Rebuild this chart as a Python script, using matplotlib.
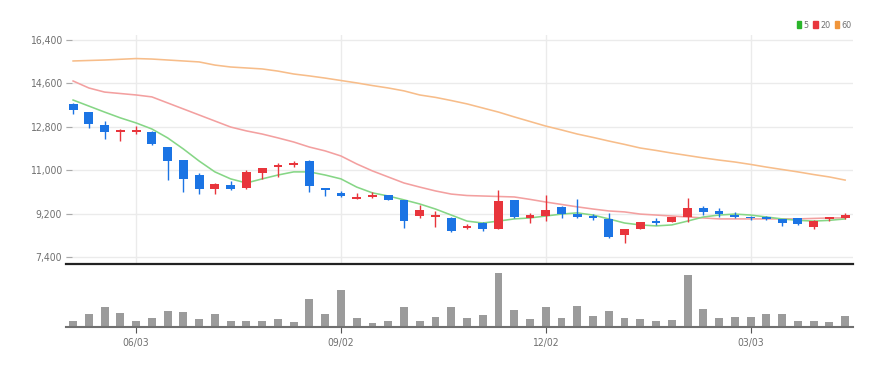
import matplotlib
matplotlib.use("Agg")
import matplotlib.pyplot as plt
from matplotlib.patches import Patch
from matplotlib.ticker import FuncFormatter
from matplotlib import font_manager as fm
import numpy as np

names = {f.name for f in fm.fontManager.ttflist}
if 'Liberation Sans Narrow' in names:
    plt.rcParams['font.family'] = ['Liberation Sans Narrow', 'DejaVu Sans']
else:
    plt.rcParams['font.family'] = ['DejaVu Sans']
    plt.rcParams['font.stretch'] = 'condensed'

# ---- data (weekly candles) ----
opens = [13750, 13410, 12880, 12590, 12590, 12590, 11960, 11420, 10800, 10220,
         10390, 10260, 10880, 11130, 11220, 11380, 10260, 10060, 9810, 9890,
         9970, 9770, 9100, 9060, 9020, 8600, 8810, 8560, 9770, 9020,
         9100, 9470, 9180, 9100, 8980, 8310, 8560, 8890, 8850, 9060,
         9430, 9310, 9140, 9060, 9060, 8980, 9020, 8650, 8980, 9020]
highs = [13790, 13410, 13040, 12710, 12830, 12630, 11960, 11420, 10880, 10470,
         10550, 11010, 11090, 11300, 11380, 11420, 10260, 10140, 10060, 10100,
         9970, 9770, 9560, 9310, 9060, 8770, 8850, 10180, 9770, 9230,
         9970, 9520, 9810, 9180, 9230, 8560, 8850, 9020, 9060, 9850,
         9520, 9430, 9270, 9100, 9100, 8980, 9020, 8940, 9060, 9230]
lows = [13330, 12750, 12300, 12210, 12500, 12050, 10590, 10100, 10010, 10010,
        10180, 10220, 10640, 10720, 11130, 10100, 9930, 9890, 9810, 9850,
        9770, 8600, 9020, 8650, 8440, 8560, 8480, 8560, 9020, 8810,
        8890, 9020, 9020, 8940, 8190, 7980, 8560, 8730, 8850, 8850,
        9140, 9060, 9020, 8940, 8940, 8690, 8730, 8560, 8890, 8980]
closes = [13500, 12920, 12590, 12670, 12670, 12090, 11380, 10640, 10220, 10430,
          10220, 10930, 11090, 11220, 11300, 10350, 10180, 9930, 9890, 9970,
          9770, 8890, 9350, 9140, 8480, 8690, 8560, 9720, 9060, 9140,
          9350, 9180, 9060, 9020, 8230, 8560, 8850, 8810, 9060, 9430,
          9270, 9180, 9060, 9000, 8990, 8810, 8770, 8890, 9020, 9140]
volumes = [63, 133, 197, 143, 63, 90, 160, 147, 80, 127,
           63, 63, 63, 80, 53, 280, 130, 373, 93, 40,
           60, 197, 63, 97, 197, 90, 123, 543, 173, 80,
           197, 90, 213, 113, 157, 90, 77, 57, 73, 523,
           180, 90, 97, 97, 133, 127, 63, 60, 47, 107]  # thousands
ma5 = [13910, 13660, 13410, 13170, 12960, 12710, 12340, 11880, 11380, 10930,
       10640, 10470, 10640, 10800, 10930, 10930, 10800, 10640, 10300, 10060,
       9930, 9770, 9600, 9390, 9140, 8890, 8810, 8890, 8980, 9020,
       9100, 9180, 9230, 9140, 8980, 8810, 8730, 8690, 8730, 8890,
       9060, 9140, 9180, 9140, 9060, 8980, 8920, 8890, 8920, 8980]
ma20 = [14700, 14410, 14240, 14180, 14120, 14040, 13790, 13540, 13290, 13040,
        12790, 12630, 12500, 12340, 12170, 11960, 11800, 11590, 11260, 10970,
        10720, 10470, 10300, 10140, 10010, 9950, 9930, 9910, 9890, 9790,
        9680, 9580, 9480, 9390, 9310, 9270, 9180, 9140, 9100, 9060,
        9020, 8980, 8980, 8980, 8980, 8980, 8980, 9000, 9020, 9020]
ma60 = [15530, 15550, 15570, 15600, 15630, 15610, 15570, 15530, 15490, 15360,
        15280, 15240, 15200, 15110, 14990, 14910, 14820, 14720, 14620, 14510,
        14410, 14290, 14120, 14020, 13890, 13750, 13580, 13410, 13210, 13020,
        12830, 12670, 12500, 12360, 12210, 12070, 11920, 11820, 11710, 11610,
        11510, 11420, 11340, 11240, 11130, 11030, 10930, 10820, 10720, 10590]
date_tick_pos = [4, 17, 30, 43]
date_tick_labels = ['06/03', '09/02', '12/02', '03/03']
price_ticks = [7400, 9200, 11000, 12800, 14600, 16400]
legend_labels = ['5', '20', '60']

RED = '#e8353c'
BLUE = '#1b74e4'
C5 = '#86d686'
C20 = '#f3a0a0'
C60 = '#f7bd8a'
W, H = 894, 367

fig = plt.figure(figsize=(W / 100, H / 100), dpi=100)
ax = fig.add_axes([66 / W, 1 - 264 / H, 787 / W, (264 - 35) / H])
vax = fig.add_axes([66 / W, 1 - 327 / H, 787 / W, 57 / H])

x = np.arange(len(opens))
o = np.array(opens); c = np.array(closes)
up = c >= o
cols = [RED if u else BLUE for u in up]

# grid
ax.set_yticks(price_ticks)
ax.set_xticks(date_tick_pos)
ax.grid(True, color='#ebebeb', linewidth=1.0)
ax.set_axisbelow(True)

# MAs
ax.plot(x, ma60, color=C60, lw=1.15, zorder=2)
ax.plot(x, ma20, color=C20, lw=1.15, zorder=2)
ax.plot(x, ma5, color=C5, lw=1.15, zorder=2)

# candles
ax.vlines(x, lows, highs, colors=cols, lw=1.0, zorder=3)
bottoms = np.minimum(o, c)
heights = np.maximum(np.abs(c - o), 70)
ax.bar(x, heights, bottom=bottoms, width=0.56, color=cols, zorder=4, linewidth=0)

ax.set_xlim(-0.45, 49.5)
ax.set_ylim(7110, 16607)
for s in ['top', 'right', 'left']:
    ax.spines[s].set_visible(False)
ax.spines['bottom'].set_color('#222222')
ax.spines['bottom'].set_linewidth(1.6)
ax.tick_params(axis='x', length=0, labelbottom=False)
ax.tick_params(axis='y', length=4, direction='in', color='#aaaaaa', labelsize=7.5,
               labelcolor='#707070', pad=3)
ax.yaxis.set_major_formatter(FuncFormatter(lambda v, p: f'{int(v):,}'))

# volume
vax.bar(x, volumes, width=0.5, color='#9b9b9b', linewidth=0)
vax.set_xlim(-0.45, 49.5)
vax.set_ylim(0, 570)
for s in ['top', 'right', 'left']:
    vax.spines[s].set_visible(False)
vax.spines['bottom'].set_color('#707070')
vax.spines['bottom'].set_linewidth(1.5)
vax.set_yticks([])
vax.set_xticks(date_tick_pos)
vax.set_xticklabels(date_tick_labels)
vax.tick_params(axis='x', length=4, color='#555555', labelsize=7.5, labelcolor='#707070', pad=4)

# legend
handles = [Patch(color='#2bb52b'), Patch(color='#e8353c'), Patch(color='#f0953a')]
fig.legend(handles, legend_labels, loc='upper right', bbox_to_anchor=(856 / W, 1 - 16 / H),
           ncol=3, fontsize=6.5, frameon=False, handlelength=0.5, handleheight=0.9,
           handletextpad=0.25, columnspacing=0.5, labelcolor='#707070', borderpad=0)

fig.savefig('out.png', dpi=100, facecolor='white')
